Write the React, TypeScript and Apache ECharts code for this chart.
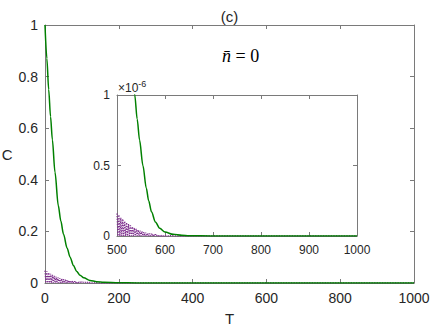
import React, { useEffect, useRef } from "react";
import * as echarts from "echarts";

// Main panel: green curve (T, C)
const mainT = [0, 5, 10, 15, 20, 27, 36, 43, 50, 60, 68, 77, 86, 95, 105, 122, 140, 160, 200, 250, 300, 1000];
const greenMain = [
  1, 0.87, 0.75, 0.645, 0.555, 0.43, 0.3, 0.24, 0.19, 0.135, 0.1, 0.068, 0.045, 0.03, 0.02, 0.01,
  0.005, 0.0025, 0.0008, 0.0002, 0, 0,
];

// Main panel: purple oscillation peaks every 5 T starting at T = 0
const purpleMainStart = 0;
const purpleMainStep = 5;
const purpleMainPeaks = [
  0.048, 0.045, 0.04, 0.036, 0.032, 0.028, 0.025, 0.022, 0.019, 0.017, 0.015, 0.013, 0.011, 0.01,
  0.009, 0.008, 0.007, 0.006, 0.005, 0.0045, 0.004, 0.0035, 0.003, 0.0027, 0.0024, 0.002, 0.0018,
  0.0016, 0.0014, 0.0012, 0.001,
];
const purpleMainEnd = 1000;

// Inset (units of 1e-6)
const insetT = [500, 520, 530, 537, 542, 547, 554, 561, 566, 572, 580, 589, 600, 617, 635, 650, 700, 1000];
const greenInset = [
  3.5, 1.8, 1.3, 1.0, 0.83, 0.68, 0.5, 0.34, 0.25, 0.17, 0.1, 0.055, 0.028, 0.012, 0.005, 0.002, 0, 0,
];

const purpleInsetStart = 500;
const purpleInsetStep = 4;
const purpleInsetPeaks = [
  0.16, 0.15, 0.13, 0.12, 0.105, 0.095, 0.085, 0.075, 0.065, 0.058, 0.05, 0.044, 0.038, 0.033,
  0.028, 0.024, 0.021, 0.018, 0.015, 0.013, 0.011, 0.009, 0.008, 0.007, 0.006, 0.005, 0.004,
  0.0035, 0.003, 0.0025, 0.002,
];
const purpleInsetEnd = 1000;

const mainXTicks = { min: 0, max: 1000, interval: 200 };
const mainYTicks = { min: 0, max: 1, interval: 0.2 };
const insetXTicks = { min: 500, max: 1000, interval: 100 };
const insetYTicks = { min: 0, max: 1, interval: 0.5 };

const GREEN = "#008000";
const PURPLE = "#7E2F8E";
const AXIS = "#7a7a7a";
const TEXT = "#262626";
const FONT = "'Liberation Sans', Arial, Helvetica, sans-serif";
const SERIF = "'Liberation Serif', 'DejaVu Serif', serif";

function zigzag(start: number, step: number, peaks: number[], end: number) {
  const out: number[][] = [];
  peaks.forEach((p, i) => {
    const t = start + i * step;
    out.push([t, p]);
    out.push([t + step / 2, 0]);
  });
  out.push([end, 0]);
  return out;
}

function pairs(xs: number[], ys: number[]) {
  return xs.map((x, i) => [x, ys[i]]);
}

const fmt = (v: number) => String(Math.round(v * 1000) / 1000);

export default function App() {
  const ref = useRef<HTMLDivElement>(null);
  useEffect(() => {
    if (!ref.current) return;
    const chart = echarts.init(ref.current, undefined, { renderer: "svg" });
    const lineStyle = { color: AXIS, width: 1 };
    const mkX = (grid: number, t: any, top: boolean, fs: number, z: number, extra: any = {}) => ({
      type: "value",
      gridIndex: grid,
      position: top ? "top" : "bottom",
      min: t.min,
      max: t.max,
      interval: t.interval,
      z,
      axisLine: { show: true, onZero: false, lineStyle },
      axisTick: { show: true, inside: true, length: 4, lineStyle },
      axisLabel: { show: !top, fontSize: fs, color: TEXT, fontFamily: FONT, margin: 8, formatter: fmt },
      splitLine: { show: false },
      ...extra,
    });
    const mkY = (grid: number, t: any, right: boolean, fs: number, z: number, extra: any = {}) => ({
      type: "value",
      gridIndex: grid,
      position: right ? "right" : "left",
      min: t.min,
      max: t.max,
      interval: t.interval,
      z,
      axisLine: { show: true, onZero: false, lineStyle },
      axisTick: { show: true, inside: true, length: 4, lineStyle },
      axisLabel: { show: !right, fontSize: fs, color: TEXT, fontFamily: FONT, margin: 7, formatter: fmt },
      splitLine: { show: false },
      ...extra,
    });
    chart.setOption({
      animation: false,
      backgroundColor: "#fff",
      grid: [
        { left: 45, right: 22, top: 25, bottom: 45, containLabel: false, outerBoundsMode: "none" },
        {
          left: 117,
          right: 79,
          top: 95,
          bottom: 92,
          show: true,
          backgroundColor: "#fff",
          borderWidth: 0,
          z: 10,
          containLabel: false,
          outerBoundsMode: "none",
        },
      ],
      xAxis: [
        mkX(0, mainXTicks, false, 14, 0, {
          name: "T",
          nameLocation: "middle",
          nameGap: 28,
          nameTextStyle: { fontSize: 15, color: TEXT, fontFamily: FONT },
        }),
        mkX(0, mainXTicks, true, 14, 0),
        mkX(1, insetXTicks, false, 12, 11),
        mkX(1, insetXTicks, true, 12, 11),
      ],
      yAxis: [
        mkY(0, mainYTicks, false, 14, 0, {
          name: "C",
          nameLocation: "middle",
          nameRotate: 0,
          nameGap: 32,
          nameTextStyle: { fontSize: 15, color: TEXT, fontFamily: FONT },
        }),
        mkY(0, mainYTicks, true, 14, 0),
        mkY(1, insetYTicks, false, 12, 11),
        mkY(1, insetYTicks, true, 12, 11),
      ],
      series: [
        {
          type: "line",
          xAxisIndex: 0,
          yAxisIndex: 0,
          data: zigzag(purpleMainStart, purpleMainStep, purpleMainPeaks, purpleMainEnd),
          showSymbol: false,
          lineStyle: { color: PURPLE, width: 1.3, type: "dotted" },
          z: 2,
        },
        {
          type: "line",
          xAxisIndex: 0,
          yAxisIndex: 0,
          data: pairs(mainT, greenMain),
          showSymbol: false,
          smooth: 0.3,
          smoothMonotone: "x",
          lineStyle: { color: GREEN, width: 1.5 },
          z: 3,
        },
        {
          type: "line",
          xAxisIndex: 2,
          yAxisIndex: 2,
          data: zigzag(purpleInsetStart, purpleInsetStep, purpleInsetPeaks, purpleInsetEnd),
          showSymbol: false,
          clip: true,
          lineStyle: { color: PURPLE, width: 1.3, type: "dotted" },
          z: 12,
        },
        {
          type: "line",
          xAxisIndex: 2,
          yAxisIndex: 2,
          data: pairs(insetT, greenInset),
          showSymbol: false,
          clip: true,
          smooth: 0.3,
          smoothMonotone: "x",
          lineStyle: { color: GREEN, width: 1.5 },
          z: 13,
        },
      ],
      graphic: [
        {
          type: "text",
          x: 229.5,
          y: 16,
          style: {
            text: "(c)",
            fontSize: 15,
            fontFamily: FONT,
            fill: TEXT,
            align: "center",
            verticalAlign: "middle",
          },
        },
        {
          type: "text",
          x: 222,
          y: 56,
          style: {
            text: "{i|n\u0304}{r| = 0}",
            verticalAlign: "middle",
            rich: {
              i: { fontSize: 18, fontStyle: "italic", fontFamily: SERIF, fill: "#000" },
              r: { fontSize: 18, fontFamily: SERIF, fill: "#000" },
            },
          },
        },
        {
          type: "text",
          x: 118,
          y: 88,
          z: 20,
          style: {
            text: "{a|\u00d710}{b|-6}",
            verticalAlign: "middle",
            rich: {
              a: { fontSize: 12, fontFamily: FONT, fill: TEXT },
              b: { fontSize: 9, fontFamily: FONT, fill: TEXT, verticalAlign: "top", padding: [0, 0, 8, 0] },
            },
          },
        },
      ],
    });
    return () => chart.dispose();
  }, []);
  return (
    <div
      ref={ref}
      style={{ position: "fixed", left: 0, top: 0, width: 436, height: 328, background: "#fff" }}
    />
  );
}
